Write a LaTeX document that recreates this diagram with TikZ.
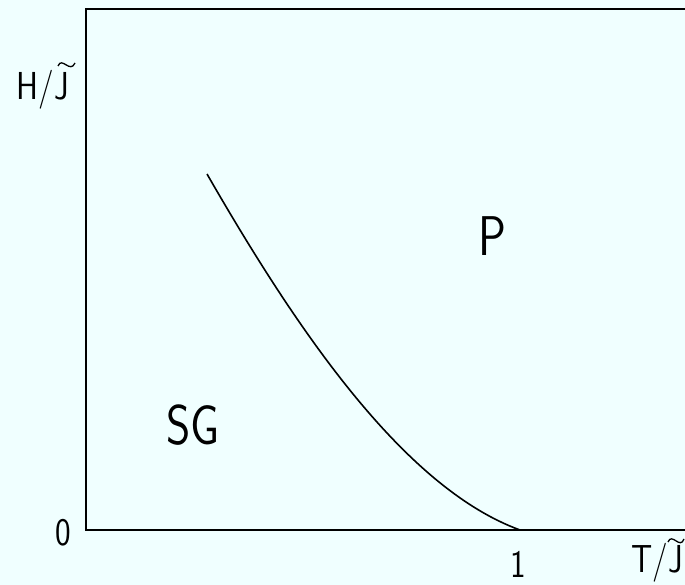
\documentclass[tikz,border=0pt]{standalone}
\definecolor{bgc}{RGB}{240,255,255}
\tikzset{
  lbl/.style={inner sep=0pt, font=\sffamily\fontsize{39}{39}\selectfont, xscale=0.85},
  big/.style={inner sep=0pt, font=\sffamily\fontsize{56}{56}\selectfont, xscale=0.83},
  axis/.style={line width=1.8pt},
  curve/.style={line width=1.6pt},
  tld/.style={line width=1.3pt}
}
\begin{document}
\begin{tikzpicture}[x=1pt,y=-1pt]
\fill[bgc] (0,0) rectangle (685,585);
\useasboundingbox (0,0) rectangle (685,585);
\coordinate (tr) at (685,9);
\coordinate (tl) at (86,9);
\coordinate (bl) at (86,530);
\coordinate (br) at (685,530);
\draw[axis] (tr) -- (tl) -- (bl) -- (br);
\coordinate (c0) at (207,174);
\coordinate (c1) at (520,530);
\draw[curve] (c0) .. controls (299,334) and (405,488) .. (c1);
\node[lbl] (hj) at (43,90) {H/J};
\coordinate (t1a) at (58,66);
\coordinate (t1b) at (75,63);
\draw[tld] (t1a) .. controls (62,56) and (70,74) .. (t1b);
\node[lbl] (zero) at (63,533) {0};
\node[lbl] (one) at (518,564) {1};
\node[lbl] (tj) at (657,563) {T/J};
\coordinate (t2a) at (668,542);
\coordinate (t2b) at (684,539);
\draw[tld] (t2a) .. controls (672,532) and (680,550) .. (t2b);
\node[big] (sg) at (193,425) {SG};
\node[big] (p) at (492,236) {P};
\end{tikzpicture}
\end{document}
